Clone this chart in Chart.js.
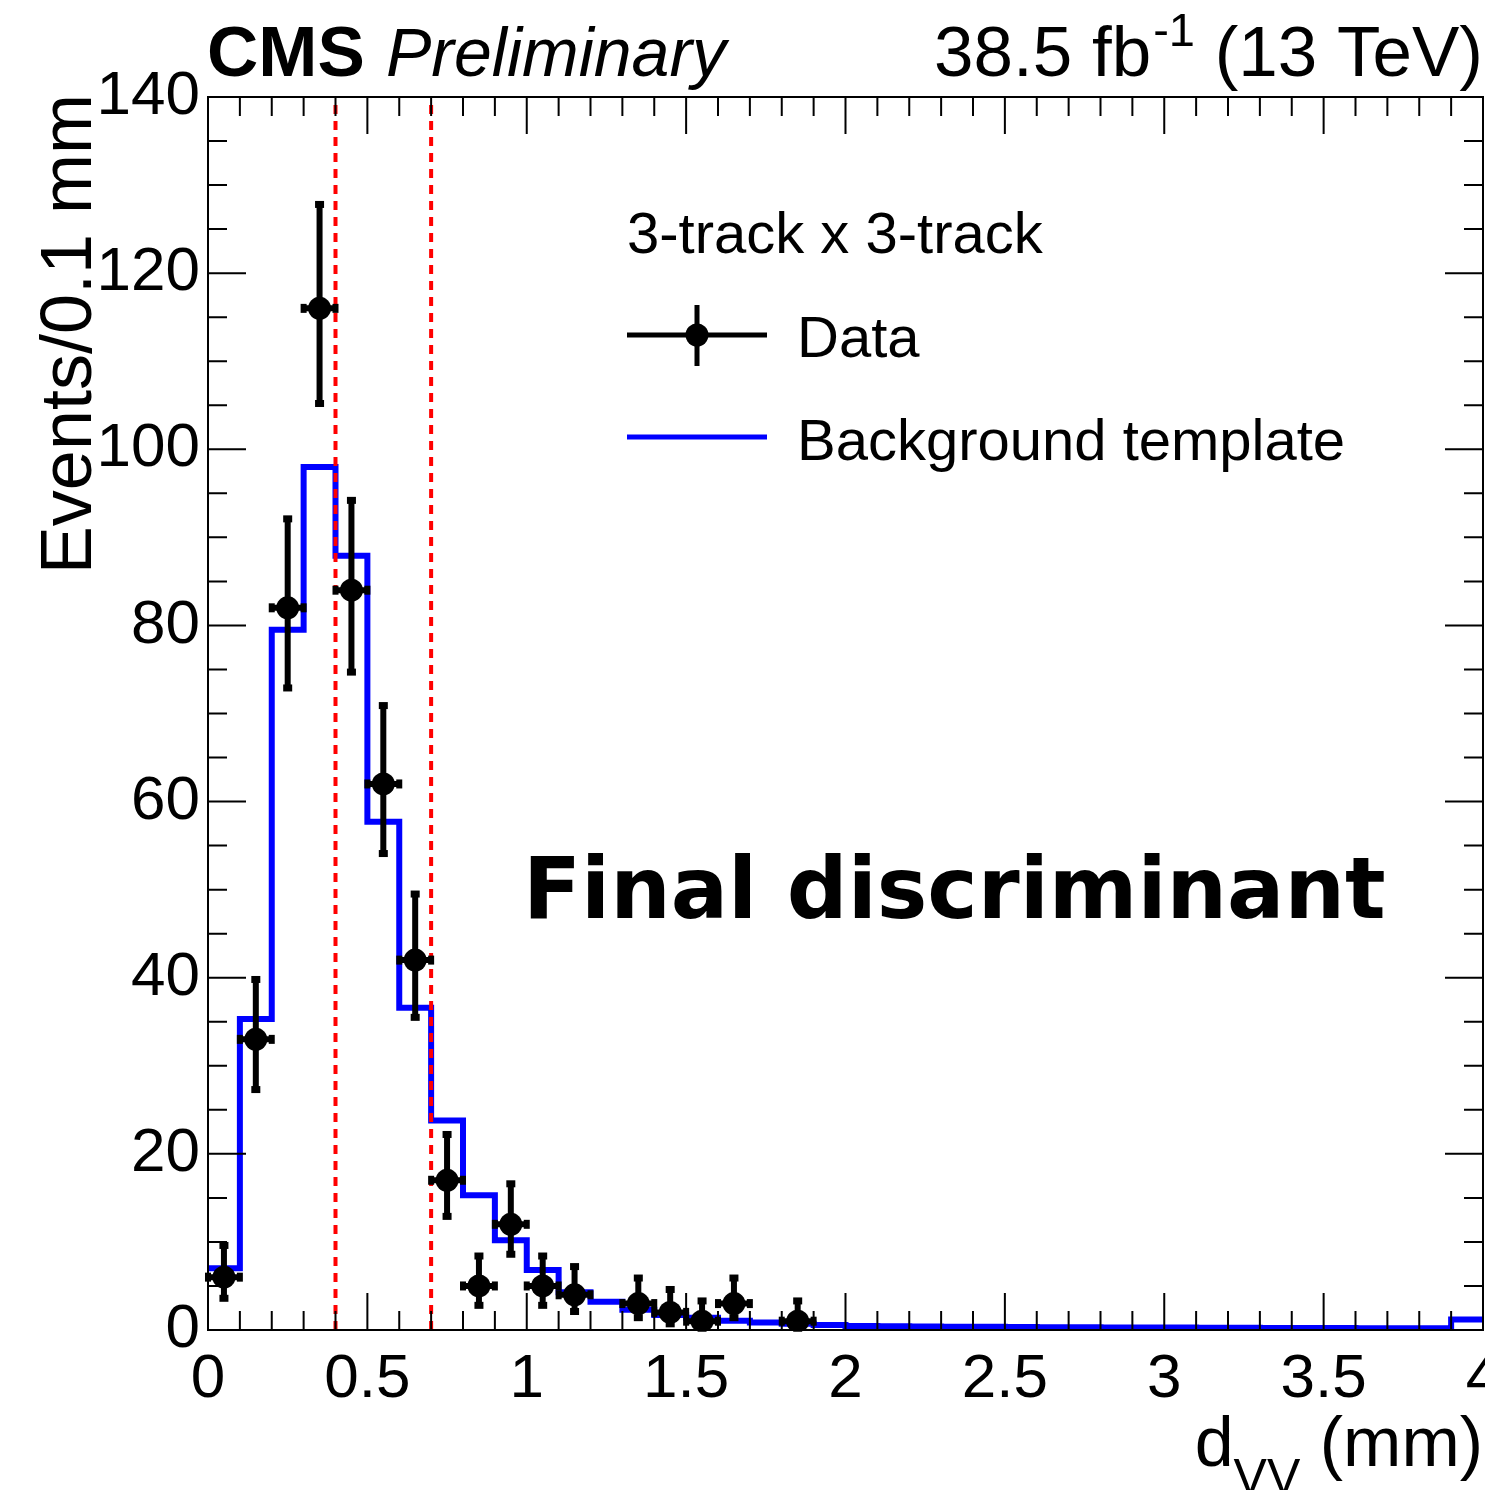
<!DOCTYPE html>
<html>
<head>
<meta charset="utf-8">
<script src="https://cdn.jsdelivr.net/npm/chart.js@4.4.0/dist/chart.umd.min.js"></script>
<style>
  body { margin: 0; background: #fff; }
  #wrap { width: 1485px; height: 1490px; }
</style>
</head>
<body>
<div id="wrap"><canvas id="chartDvv" width="1485" height="1490"></canvas></div>
<script>
// background template, one value per 0.1 mm bin from 0 to 4 mm
const binWidth = 0.1
const bkgValues = [
  7.0, 35.3, 79.5, 98.0, 87.9, 57.7, 36.6, 23.8, 15.3, 10.2,
  6.8, 4.3, 3.2, 2.3, 1.7, 1.4, 1.05, 0.85, 0.7, 0.57,
  0.45, 0.42, 0.40, 0.38, 0.36, 0.34, 0.32, 0.30, 0.29, 0.28,
  0.27, 0.26, 0.25, 0.24, 0.23, 0.22, 0.21, 0.21, 0.20, 1.2
]

// data points (bin centres) with asymmetric error bars
const dataX    = [0.05, 0.15, 0.25, 0.35, 0.45, 0.55, 0.65, 0.75, 0.85, 0.95, 1.05, 1.15, 1.35, 1.45, 1.55, 1.65, 1.85]
const dataY    = [6, 33, 82, 116, 84, 62, 42, 17, 5, 12, 5, 4, 3, 2, 1, 3, 1]
const dataHigh = [9.6, 39.8, 92.1, 127.8, 94.2, 70.9, 49.5, 22.2, 8.4, 16.6, 8.4, 7.2, 5.9, 4.6, 3.3, 5.9, 3.3]
const dataLow  = [3.6, 27.3, 72.9, 105.2, 74.7, 54.1, 35.5, 12.9, 2.8, 8.6, 2.8, 2.1, 1.4, 0.7, 0.2, 1.4, 0.2]

// vertical cut lines
const cutLines = [0.4, 0.7]

const xTicks = [0, 0.5, 1, 1.5, 2, 2.5, 3, 3.5, 4]
const yTicks = [0, 20, 40, 60, 80, 100, 120, 140]

const histPoints = bkgValues.map((v, i) => ({ x: i * binWidth, y: v }))
histPoints.push({ x: bkgValues.length * binWidth, y: bkgValues[bkgValues.length - 1] })

const mainFont = '"Liberation Sans", Arial, Helvetica, sans-serif'

const decor = {
  id: 'decor',
  afterDatasetsDraw(chart) {
    const c = chart.ctx
    const xs = chart.scales.x
    const ys = chart.scales.y
    c.save()
    c.fillStyle = '#000'
    c.strokeStyle = '#000'
    c.lineWidth = 6
    for (let i = 0; i < dataX.length; i++) {
      const px = xs.getPixelForValue(dataX[i])
      const py = ys.getPixelForValue(dataY[i])
      const pLo = ys.getPixelForValue(dataLow[i])
      const pHi = ys.getPixelForValue(dataHigh[i])
      const xl = xs.getPixelForValue(dataX[i] - binWidth / 2)
      const xr = xs.getPixelForValue(dataX[i] + binWidth / 2)
      c.beginPath()
      c.moveTo(px, pHi); c.lineTo(px, pLo)
      c.moveTo(xl, py); c.lineTo(xr, py)
      c.stroke()
      c.fillRect(px - 4.5, pHi - 3.5, 9, 7)
      c.fillRect(px - 4.5, pLo - 3.5, 9, 7)
      c.fillRect(xl - 3, py - 4.5, 6, 9)
      c.fillRect(xr - 3, py - 4.5, 6, 9)
    }
    c.restore()
  },
  afterDraw(chart) {
    const c = chart.ctx
    const a = chart.chartArea
    const xs = chart.scales.x
    const ys = chart.scales.y
    c.save()
    // frame and inward ticks
    c.strokeStyle = '#000'
    c.lineWidth = 2
    c.strokeRect(a.left, a.top, a.right - a.left, a.bottom - a.top)
    c.beginPath()
    for (let k = 0; k <= 40; k++) {
      const px = xs.getPixelForValue(k * 0.1)
      const len = k % 5 === 0 ? 37 : 19
      c.moveTo(px, a.bottom); c.lineTo(px, a.bottom - len)
      c.moveTo(px, a.top); c.lineTo(px, a.top + len)
    }
    for (let k = 0; k <= 28; k++) {
      const py = ys.getPixelForValue(k * 5)
      const len = k % 4 === 0 ? 38 : 19
      c.moveTo(a.left, py); c.lineTo(a.left + len, py)
      c.moveTo(a.right, py); c.lineTo(a.right - len, py)
    }
    c.stroke()

    c.fillStyle = '#000'
    // x tick labels (last one runs off the canvas, as in the original)
    c.font = '62px ' + mainFont
    c.textAlign = 'center'
    c.textBaseline = 'alphabetic'
    xTicks.forEach(v => c.fillText(String(v), xs.getPixelForValue(v), 1397))

    // header
    c.textAlign = 'left'
    c.font = 'bold 71px ' + mainFont
    c.fillText('CMS', 207, 76)
    c.font = 'italic 68px ' + mainFont
    c.fillText('Preliminary', 386, 76)

    c.font = '71px ' + mainFont
    const partA = '38.5 fb'
    const partC = ' (13 TeV)'
    const wA = c.measureText(partA).width
    const wC = c.measureText(partC).width
    c.font = '47px ' + mainFont
    const wB = c.measureText('-1').width
    let x0 = 1483 - wA - wB - wC - 2
    c.font = '71px ' + mainFont
    c.fillText(partA, x0, 76)
    c.font = '47px ' + mainFont
    c.fillText('-1', x0 + wA + 2, 46)
    c.font = '71px ' + mainFont
    c.fillText(partC, x0 + wA + wB + 2, 76)

    // axis titles
    c.font = '70px ' + mainFont
    const wMM = c.measureText(' (mm)').width
    c.font = '50px ' + mainFont
    const wVV = c.measureText('VV').width
    c.font = '70px ' + mainFont
    const wD = c.measureText('d').width
    let tx = 1483 - wMM - wVV - wD
    c.fillText('d', tx, 1466)
    c.font = '50px ' + mainFont
    c.fillText('VV', tx + wD, 1494)
    c.font = '70px ' + mainFont
    c.fillText(' (mm)', tx + wD + wVV, 1466)

    c.save()
    c.translate(91, 94)
    c.rotate(-Math.PI / 2)
    c.textAlign = 'right'
    c.font = '72px ' + mainFont
    c.fillText('Events/0.1 mm', 0, 0)
    c.restore()

    // legend
    c.font = '58px ' + mainFont
    c.textAlign = 'left'
    c.fillText('3-track x 3-track', 627, 253)
    c.fillText('Data', 797, 357)
    c.fillText('Background template', 797, 460)
    c.lineWidth = 5
    c.strokeStyle = '#000'
    c.beginPath()
    c.moveTo(627, 335); c.lineTo(767, 335)
    c.moveTo(697, 305); c.lineTo(697, 366)
    c.stroke()
    c.beginPath()
    c.arc(697, 335, 11.5, 0, Math.PI * 2)
    c.fill()
    c.strokeStyle = '#0000ff'
    c.beginPath()
    c.moveTo(627, 437); c.lineTo(767, 437)
    c.stroke()

    c.fillStyle = '#000'
    c.font = 'bold 85px "DejaVu Sans", sans-serif'
    c.fillText('Final discriminant', 523, 918)
    c.restore()
  }
}

const chartDvv = new Chart(document.getElementById('chartDvv'), {
  type: 'line',
  data: {
    datasets: [
      {
        label: 'Data',
        data: dataX.map((x, i) => ({ x: x, y: dataY[i] })),
        showLine: false,
        pointRadius: 11.5,
        pointBorderWidth: 0,
        pointBackgroundColor: '#000',
        order: 0
      },
      ...cutLines.map(v => ({
        label: 'cut',
        data: [{ x: v, y: 0 }, { x: v, y: 140 }],
        borderColor: '#ff0000',
        borderWidth: 4,
        borderDash: [9, 7],
        pointRadius: 0,
        order: 1
      })),
      {
        label: 'Background template',
        data: histPoints,
        stepped: true,
        borderColor: '#0000ff',
        borderWidth: 6,
        pointRadius: 0,
        fill: false,
        order: 2
      }
    ]
  },
  options: {
    responsive: false,
    animation: false,
    layout: { autoPadding: false, padding: { top: 97, right: 2, left: 0, bottom: 0 } },
    plugins: { legend: { display: false }, tooltip: { enabled: false } },
    scales: {
      x: {
        type: 'linear',
        min: 0,
        max: 4,
        grid: { display: false, drawTicks: false },
        border: { display: false },
        afterBuildTicks: (s) => { s.ticks = xTicks.map(v => ({ value: v })) },
        ticks: { display: false },
        afterFit: (s) => { s.height = 160; s.paddingLeft = 0; s.paddingRight = 0 }
      },
      y: {
        min: 0,
        max: 140,
        grid: { display: false, drawTicks: false },
        border: { display: false },
        afterBuildTicks: (s) => { s.ticks = yTicks.map(v => ({ value: v })) },
        ticks: {
          color: '#000',
          padding: 8,
          font: { family: mainFont, size: 62 },
          callback: (v) => String(v)
        },
        afterFit: (s) => { s.width = 208; s.paddingTop = 0; s.paddingBottom = 0 }
      }
    }
  },
  plugins: [decor]
})
</script>
</body>
</html>
